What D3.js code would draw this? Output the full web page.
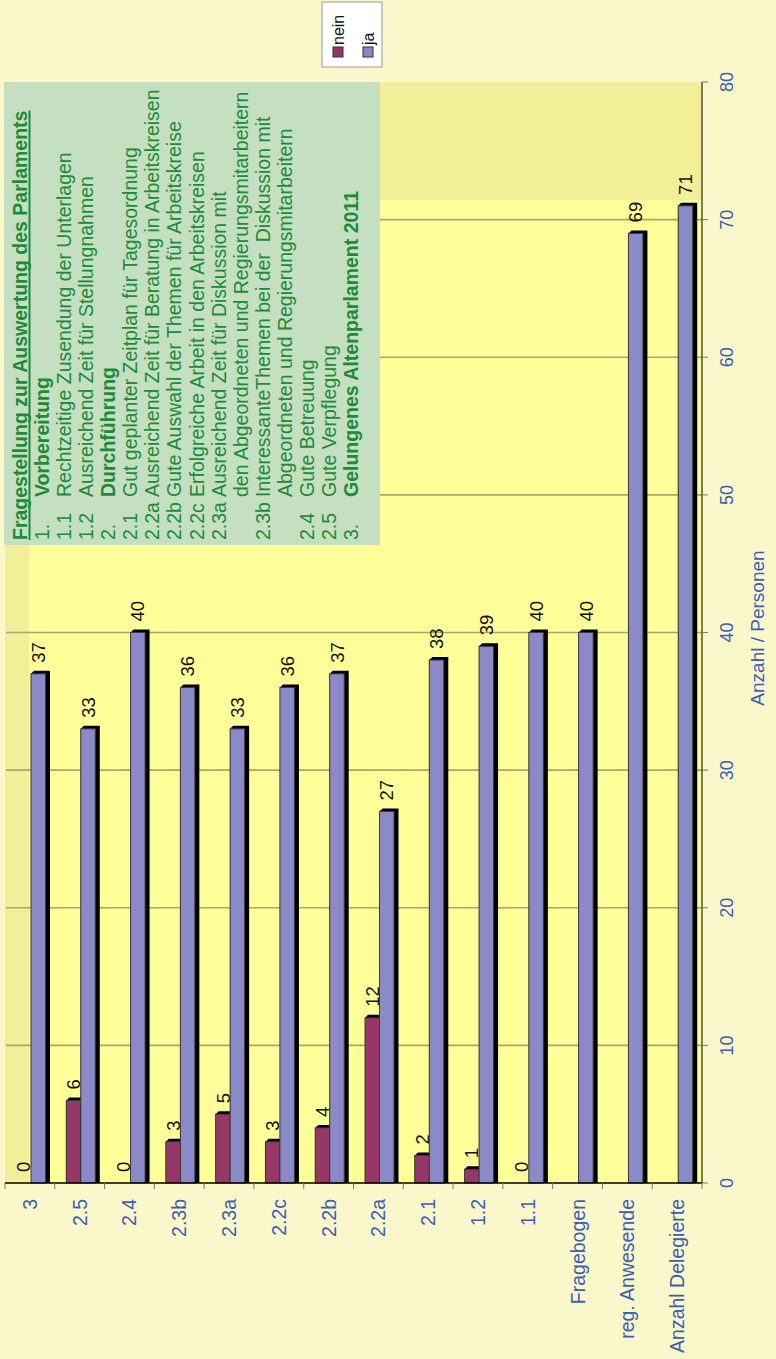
<!DOCTYPE html>
<html>
<head>
<meta charset="utf-8">
<script src="https://cdn.jsdelivr.net/npm/d3@7"></script>
<style>
  body { margin: 0; background: #FAF7CA; }
  svg { display: block; font-family: "Liberation Sans", Arial, sans-serif; }
  text { white-space: pre; }
</style>
</head>
<body>
<div id="chart"></div>
<script>
// chart is drawn as a horizontal bar chart, then turned -90 degrees
var W = 1359, H = 776;

var categories = ["3", "2.5", "2.4", "2.3b", "2.3a", "2.2c", "2.2b", "2.2a", "2.1", "1.2", "1.1",
                  "Fragebogen", "reg. Anwesende", "Anzahl Delegierte"];
var nein = [0, 6, 0, 3, 5, 3, 4, 12, 2, 1, 0, null, null, null];
var ja = [37, 33, 40, 36, 33, 36, 37, 27, 38, 39, 40, 40, 69, 71];
var seriesNames = ["nein", "ja"];
var seriesColors = ["#953767", "#8A8AC8"];
var valueTicks = [0, 10, 20, 30, 40, 50, 60, 70, 80];

var boxTitle = "Fragestellung zur Auswertung des Parlaments";
var boxNums = ["1.", "1.1", "1.2", "2.", "2.1", "2.2a", "2.2b", "2.2c", "2.3a", "", "2.3b", "", "2.4", "2.5", "3."];
var boxLines = ["Vorbereitung",
  "Rechtzeitige Zusendung der Unterlagen",
  "Ausreichend Zeit für Stellungnahmen",
  "Durchführung",
  "Gut geplanter Zeitplan für Tagesordnung",
  "Ausreichend Zeit für Beratung in Arbeitskreisen",
  "Gute Auswahl der Themen für Arbeitskreise",
  "Erfolgreiche Arbeit in den Arbeitskreisen",
  "Ausreichend Zeit für Diskussion mit",
  "den Abgeordneten und Regierungsmitarbeitern",
  "InteressanteThemen bei der  Diskussion mit",
  "Abgeordneten und Regierungsmitarbeitern",
  "Gute Betreuung",
  "Gute Verpflegung",
  "Gelungenes Altenparlament 2011"];
var boxBold = [0, 3, 14];

var blue = "#3E5DB5";
var green = "#1E8A3A";

var svg = d3.select("#chart").append("svg")
    .attr("width", 776)
    .attr("height", 1359);

svg.append("rect").attr("width", 776).attr("height", 1359).attr("fill", "#FAF7CA");

var g = svg.append("g").attr("transform", "translate(0," + W + ") rotate(-90)");

var x = d3.scaleLinear().domain([0, 80]).range([176, 1277]);
var y = d3.scaleBand().domain(categories).range([5, 702]);
var ys = d3.scaleBand().domain(seriesNames).range([11.5, 40.5]);

// plot background
g.append("rect").attr("x", x(0)).attr("y", 5)
    .attr("width", x(80) - x(0)).attr("height", 697).attr("fill", "#F3EE98");
g.append("rect").attr("x", x(0)).attr("y", 29)
    .attr("width", (W - 200) - x(0)).attr("height", 673).attr("fill", "#FFFF99");

// gridlines
g.selectAll(".grid").data(valueTicks.slice(1, -1)).enter()
    .append("line")
    .attr("x1", function(d) { return x(d); })
    .attr("x2", function(d) { return x(d); })
    .attr("y1", 6).attr("y2", 702)
    .attr("stroke", "#A9A56C").attr("stroke-width", 1.6);

// text box
var box = g.append("g");
box.append("rect").attr("x", 814).attr("y", 4)
    .attr("width", 1277 - 814).attr("height", 376).attr("fill", "#C5E0C0");
var title = box.append("text").attr("x", 819).attr("y", 27)
    .attr("font-size", 19.5).attr("font-weight", "bold").attr("fill", green)
    .text(boxTitle);
var tl = title.node().getComputedTextLength();
box.append("line").attr("x1", 819).attr("x2", 819 + tl)
    .attr("y1", 29.5).attr("y2", 29.5).attr("stroke", green).attr("stroke-width", 2);

box.selectAll(".num").data(boxNums).enter().append("text")
    .attr("x", 819)
    .attr("y", function(d, i) { return 27 + (i + 1) * 22.07; })
    .attr("font-size", 19.5).attr("fill", green)
    .text(function(d) { return d; });
box.selectAll(".line").data(boxLines).enter().append("text")
    .attr("x", 862)
    .attr("y", function(d, i) { return 27 + (i + 1) * 22.07; })
    .attr("font-size", 19.5).attr("fill", green)
    .attr("font-weight", function(d, i) { return boxBold.indexOf(i) >= 0 ? "bold" : "normal"; })
    .text(function(d) { return d; });

// bars
var rows = [];
categories.forEach(function(c, i) {
    [nein[i], ja[i]].forEach(function(v, s) {
        if (v !== null) rows.push({ cat: c, s: s, v: v });
    });
});

var bars = g.selectAll(".bar").data(rows).enter().append("g");
bars.append("path")
    .attr("d", function(d) {
        var u0 = x(0), u1 = x(d.v);
        var v0 = y(d.cat) + ys(seriesNames[d.s]), v1 = v0 + ys.bandwidth();
        if (d.v === 0) return "";
        return "M" + u0 + "," + v0 + "L" + u1 + "," + v0 + "L" + (u1 + 3) + "," + (v0 + 3) +
            "L" + (u1 + 3) + "," + (v1 + 4.5) + "L" + u0 + "," + (v1 + 4.5) + "Z";
    })
    .attr("fill", "#000");
bars.append("rect")
    .attr("x", x(0))
    .attr("y", function(d) { return y(d.cat) + ys(seriesNames[d.s]); })
    .attr("width", function(d) { return x(d.v) - x(0); })
    .attr("height", ys.bandwidth())
    .attr("fill", function(d) { return seriesColors[d.s]; })
    .attr("stroke", function(d) { return d.v === 0 ? "none" : "#3a3a3a"; })
    .attr("stroke-width", 1);
bars.append("text")
    .attr("x", function(d) { return x(d.v) + 11; })
    .attr("y", function(d) { return y(d.cat) + ys(seriesNames[d.s]) + ys.bandwidth() / 2; })
    .attr("dy", "0.36em")
    .attr("font-size", 18.5).attr("fill", "#111")
    .text(function(d) { return d.v; });

// value axis (right side once turned)
g.append("line").attr("x1", x(0)).attr("x2", x(80)).attr("y1", 702).attr("y2", 702)
    .attr("stroke", "#000");
g.selectAll(".vt").data(valueTicks).enter().append("line")
    .attr("x1", function(d) { return x(d); }).attr("x2", function(d) { return x(d); })
    .attr("y1", 702).attr("y2", 708).attr("stroke", "#777");
g.selectAll(".vl").data(valueTicks).enter().append("text")
    .attr("x", function(d) { return x(d); }).attr("y", 733)
    .attr("text-anchor", "middle").attr("font-size", 18).attr("fill", blue)
    .text(function(d) { return d; });
g.append("text").attr("x", 731).attr("y", 764)
    .attr("text-anchor", "middle").attr("font-size", 19).attr("fill", blue)
    .text("Anzahl / Personen");

// category axis (bottom once turned)
g.append("line").attr("x1", x(0)).attr("x2", x(0)).attr("y1", 5).attr("y2", 702)
    .attr("stroke", "#000").attr("stroke-width", 1.5);
g.selectAll(".ct").data(categories.concat(["end"])).enter().append("line")
    .attr("x1", x(0) - 6).attr("x2", x(0))
    .attr("y1", function(d, i) { return 5 + i * y.step(); })
    .attr("y2", function(d, i) { return 5 + i * y.step(); })
    .attr("stroke", "#777");
g.selectAll(".cl").data(categories).enter().append("text")
    .attr("x", 160)
    .attr("y", function(d) { return y(d) + y.bandwidth() / 2; })
    .attr("dy", "0.36em")
    .attr("text-anchor", "end").attr("font-size", 19.5).attr("fill", blue)
    .text(function(d) { return d; });

// legend
var lg = g.append("g");
lg.append("rect").attr("x", 1292).attr("y", 322).attr("width", 65).attr("height", 60)
    .attr("fill", "#fff").attr("stroke", "#999");
seriesNames.forEach(function(n, i) {
    lg.append("rect").attr("x", 1302).attr("y", 333 + i * 30).attr("width", 10).attr("height", 10)
        .attr("fill", seriesColors[i]).attr("stroke", "#333");
    lg.append("text").attr("x", 1314).attr("y", 344 + i * 30)
        .attr("font-size", 16).attr("fill", "#111").text(n);
});
</script>
</body>
</html>
